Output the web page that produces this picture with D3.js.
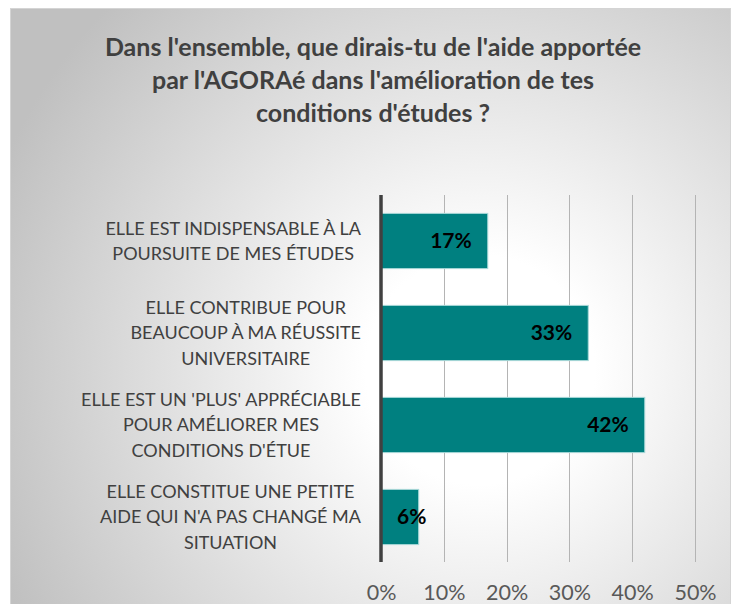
<!DOCTYPE html>
<html><head><meta charset="utf-8">
<script src="https://cdn.jsdelivr.net/npm/d3@7"></script>
<style>html,body{margin:0;padding:0;background:#fff;}svg{display:block;}</style>
</head><body>
<script>
const titleLines = ["Dans l'ensemble, que dirais-tu de l'aide apportée", "par l'AGORAé dans l'amélioration de tes", "conditions d'études ?"];
const categories = [
  "ELLE EST INDISPENSABLE À LA\nPOURSUITE DE MES ÉTUDES",
  "ELLE CONTRIBUE POUR\nBEAUCOUP À MA RÉUSSITE\nUNIVERSITAIRE",
  "ELLE EST UN 'PLUS' APPRÉCIABLE\nPOUR AMÉLIORER MES\nCONDITIONS D'ÉTUE",
  "ELLE CONSTITUE UNE PETITE\nAIDE QUI N'A PAS CHANGÉ MA\nSITUATION"
];
const values = [17, 33, 42, 6];
const tickValues = [0, 10, 20, 30, 40, 50];

const W = 733, H = 604;
const svg = d3.select("body").append("svg").attr("width", W).attr("height", H);
const defs = svg.append("defs");
const grad = defs.append("radialGradient").attr("id", "bg")
  .attr("gradientUnits", "userSpaceOnUse").attr("cx", 480).attr("cy", 370).attr("r", 520);
grad.append("stop").attr("offset", 0).attr("stop-color", "#ffffff");
grad.append("stop").attr("offset", 0.22).attr("stop-color", "#ffffff");
grad.append("stop").attr("offset", 1).attr("stop-color", "#c0c0c0");

svg.append("rect").attr("x", 10.5).attr("y", 8.5).attr("width", 720).attr("height", 620)
  .attr("fill", "url(#bg)").attr("stroke", "#d4d4d4").attr("stroke-width", 1);

const font = "Lato, 'Open Sans', sans-serif";

// Title
const title = svg.append("text").attr("text-anchor", "middle")
  .attr("font-family", font).attr("font-weight", "bold").attr("font-size", 25).attr("fill", "#404040");
titleLines.forEach((t, i) => title.append("tspan").attr("x", 373).attr("y", 56 + i * 33).text(t));

const x = d3.scaleLinear().domain([0, 50]).range([381, 695]);
const y = d3.scaleBand().domain(categories).range([195, 563]).paddingInner(0.4).paddingOuter(0.2);

// Gridlines
svg.append("g").selectAll("line").data(tickValues.filter(d => d > 0)).join("line")
  .attr("x1", d => Math.round(x(d)) + 0.5).attr("x2", d => Math.round(x(d)) + 0.5)
  .attr("y1", 195).attr("y2", 562).attr("stroke", "#b4b4b4").attr("stroke-width", 1);

// Bars
svg.append("g").selectAll("rect").data(values).join("rect")
  .attr("x", x(0)).attr("y", (d, i) => y(categories[i]))
  .attr("width", d => x(d) - x(0)).attr("height", y.bandwidth())
  .attr("fill", "#008080").attr("stroke", "#a8d8d8").attr("stroke-width", 1);

// Axis line
svg.append("line").attr("x1", x(0)).attr("x2", x(0)).attr("y1", 195).attr("y2", 562)
  .attr("stroke", "#404040").attr("stroke-width", 3.5);

// Value labels
svg.append("g").selectAll("text").data(values).join("text")
  .attr("font-family", font).attr("font-weight", "bold").attr("font-size", 21).attr("fill", "#000")
  .attr("text-anchor", "end").attr("dy", "0.35em")
  .attr("y", (d, i) => y(categories[i]) + y.bandwidth() / 2)
  .text(d => d + "%")
  .attr("x", function(d) {
    const w = this.getComputedTextLength();
    return Math.max(x(d) - 16, x(0) + 16 + w);
  });

// Category labels
const catG = svg.append("g");
categories.forEach((c, i) => {
  const lines = c.split("\n");
  const t = catG.append("text").attr("font-family", font).attr("font-size", 18)
    .attr("fill", "#404040").attr("text-anchor", "middle");
  const cy = y(c) + y.bandwidth() / 2;
  const lh = 25.5;
  const spans = lines.map((l, j) => t.append("tspan")
    .attr("y", cy + (j - (lines.length - 1) / 2) * lh).attr("dy", "0.35em").text(l));
  const maxW = d3.max(spans, s => s.node().getComputedTextLength());
  spans.forEach(s => s.attr("x", 361 - maxW / 2));
});

// Tick labels
const axis = d3.axisBottom(x).tickValues(tickValues).tickFormat(d => d + "%").tickSize(0).tickPadding(0);
const ax = svg.append("g").attr("transform", "translate(0,585)").call(axis);
ax.select(".domain").remove();
ax.selectAll("text").attr("font-family", font).attr("font-size", 21.5).attr("fill", "#595959").attr("dy", "0.71em");
</script>
</body></html>
